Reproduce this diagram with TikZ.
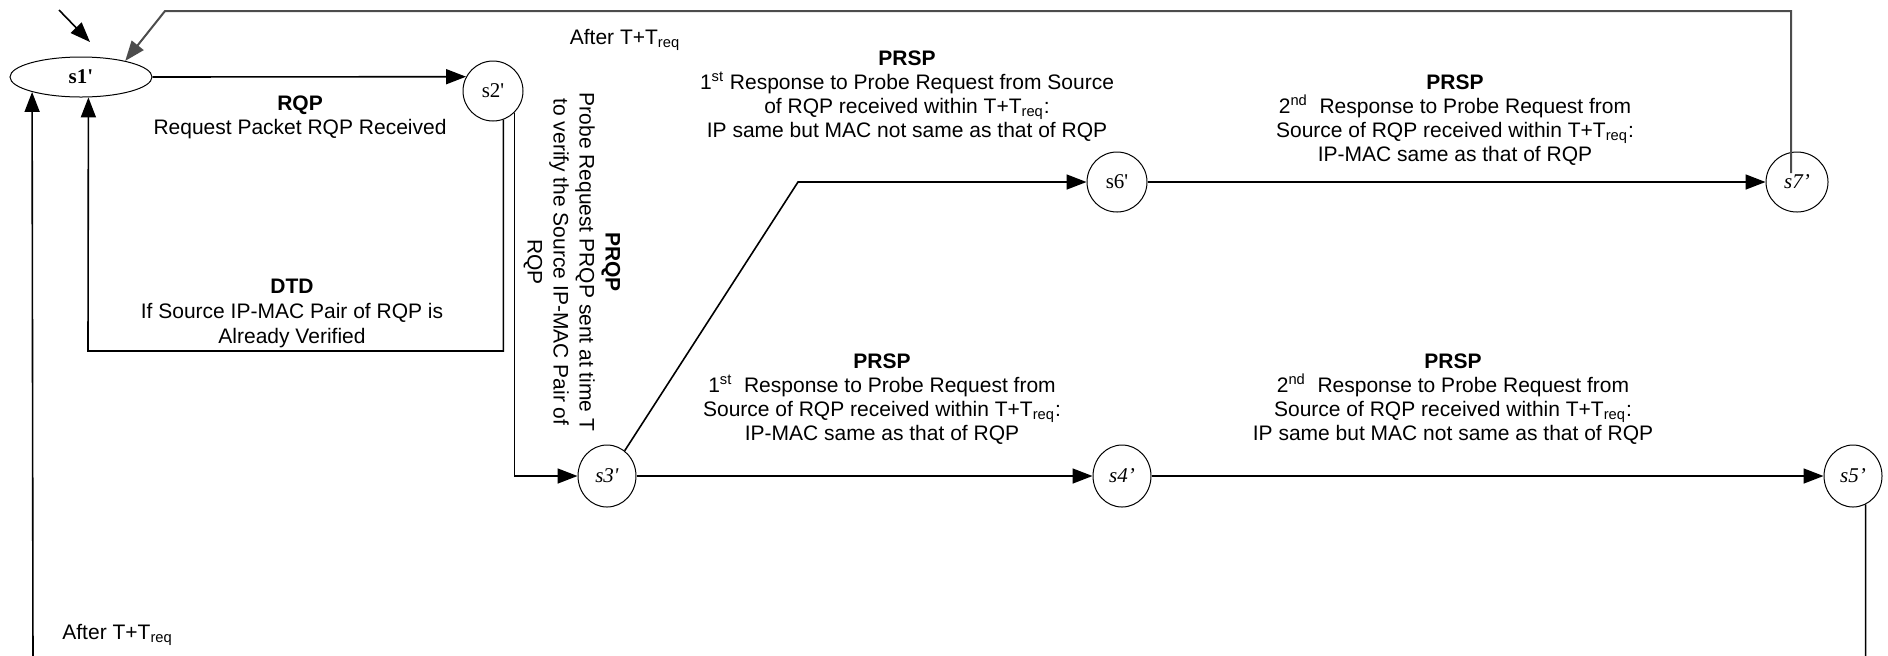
\documentclass[tikz,border=0pt]{standalone}
\usepackage{fontspec}
\setmainfont{Liberation Sans}
\newfontfamily\serif{Liberation Serif}
\usetikzlibrary{arrows.meta,shapes.geometric}
\begin{document}
\begin{tikzpicture}[x=0.5pt,y=-0.5pt,
  conn/.style={line width=0.8pt, -{Triangle[length=10pt,width=7.5pt]}},
  st/.style={draw, ellipse, line width=0.5pt, inner sep=0pt, minimum width=30pt, minimum height=30pt, font=\serif\fontsize{10.5}{12}\selectfont},
  lab/.style={align=center, inner sep=0pt, font=\fontsize{10.5}{12}\selectfont}
]
\useasboundingbox (0,0) rectangle (1888,655);
\clip (0,0) rectangle (1888,655);
% states
\node[st, minimum width=71pt, minimum height=20pt] (s1) at (81,77) {\textbf{s1'}};
\node[st] (s2) at (493,91) {s2'};
\node[st, minimum width=29pt, minimum height=31pt] (s3) at (607,476) {\textit{s3'}};
\node[st, minimum width=29pt, minimum height=31pt] (s4) at (1122,476) {\textit{s4’}};
\node[st, minimum width=29pt, minimum height=31pt] (s5) at (1853,476) {\textit{s5’}};
\node[st] (s6) at (1117,182) {s6'};
\node[st, minimum width=31pt] (s7) at (1797,182) {\textit{s7’}};
% helper coordinates
\coordinate (e0) at (59,10);
\coordinate (e1) at (90,42);
\coordinate (s7in) at (1791,173);
\coordinate (t1) at (1791,11);
\coordinate (t2) at (165,11);
\coordinate (d1) at (88,351);
\coordinate (c36) at (798,182);
\coordinate (b2) at (33,668);
% connectors
\draw[conn] (e0) -- (e1);
\draw[conn, draw=black!70, line width=1pt] (s7in) -- (t1) -- (t2) -- (s1.20);
\draw[conn] (s1.east) -- (s2.152);
\draw[conn] (s2.-70) |- (d1) -- (s1.-70.6);
\draw[conn] (s2.-45) |- (s3.west);
\draw[conn] (s3.55) -- (c36) -- (s6.west);
\draw[conn] (s6.east) -- (s7.west);
\draw[conn] (s3.east) -- (s4.west);
\draw[conn] (s4.east) -- (s5.west);
\draw[conn] (s5.-66) |- (b2) -- (s1.197);
% labels
\node[lab] (lT1) at (625,40) {After T+T\textsubscript{req}};
\node[lab] (lRQP) at (300,117) {\textbf{RQP}\\Request Packet RQP Received};
\node[lab, font=\fontsize{10.5}{12.5}\selectfont] (lDTD) at (292,313) {\textbf{DTD}\\If Source IP-MAC Pair of RQP is\\Already Verified};
\node[lab, rotate=-90, font=\fontsize{10.5}{13}\selectfont] (lPRQP) at (572,262) {\textbf{PRQP}\\Probe Request PRQP sent at time T\\to verify the Source IP-MAC Pair of\\RQP};
\node[lab] (lA) at (907,96) {\textbf{PRSP}\\1\textsuperscript{st} Response to Probe Request from Source\\of RQP received within T+T\textsubscript{req}:\\IP same but MAC not same as that of RQP};
\node[lab] (lB) at (1455,120) {\textbf{PRSP}\\2\textsuperscript{nd}\ \ Response to Probe Request from\\Source of RQP received within T+T\textsubscript{req}:\\IP-MAC same as that of RQP};
\node[lab] (lC) at (882,399) {\textbf{PRSP}\\1\textsuperscript{st}\ \ Response to Probe Request from\\Source of RQP received within T+T\textsubscript{req}:\\IP-MAC same as that of RQP};
\node[lab] (lD) at (1453,399) {\textbf{PRSP}\\2\textsuperscript{nd}\ \ Response to Probe Request from\\Source of RQP received within T+T\textsubscript{req}:\\IP same but MAC not same as that of RQP};
\node[lab, anchor=west] (lT2) at (62,635) {After T+T\textsubscript{req}};
\end{tikzpicture}
\end{document}
